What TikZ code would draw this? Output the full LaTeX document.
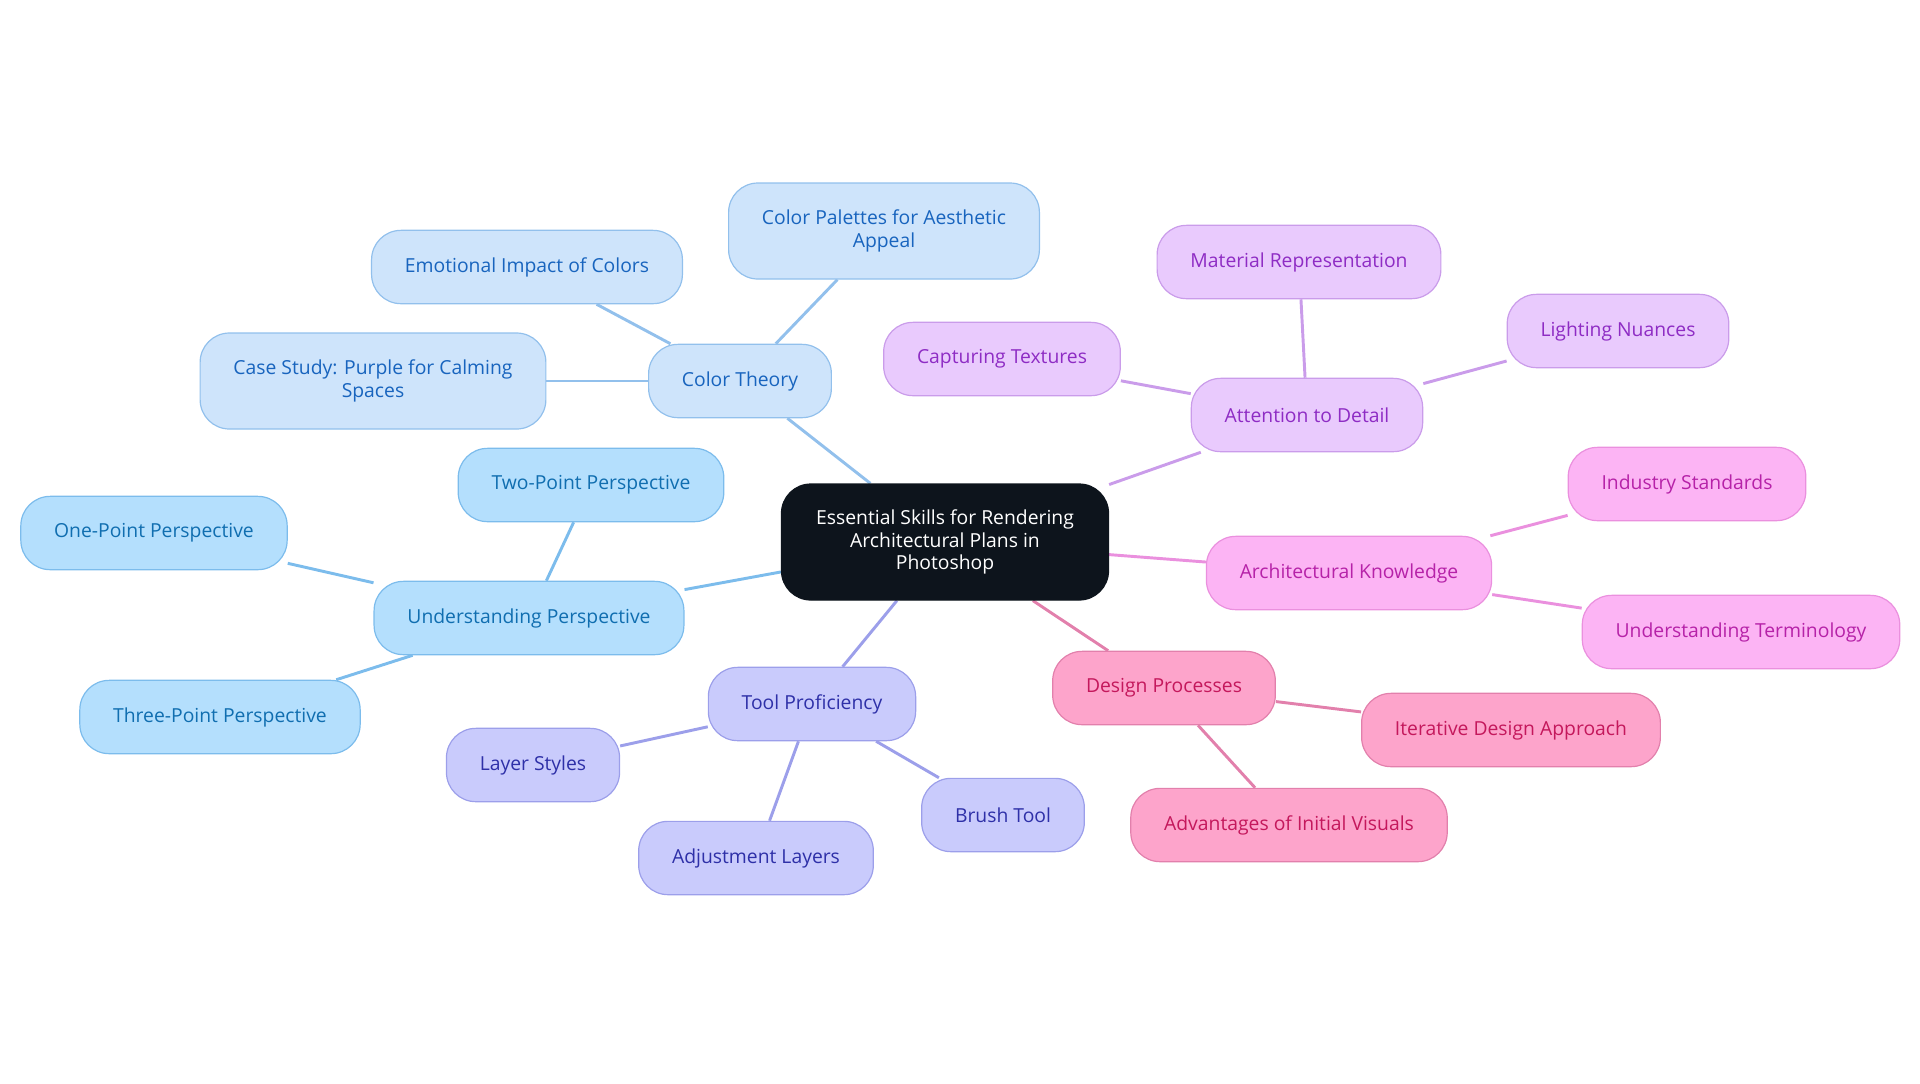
\documentclass[tikz,border=0pt]{standalone}
\usepackage{fontspec}
\setmainfont{Open Sans}
\usepackage{tikz}
\usetikzlibrary{positioning,backgrounds}
\definecolor{rootfill}{RGB}{13,20,28}
\definecolor{ctfill}{RGB}{206,228,251}
\definecolor{ctdraw}{RGB}{146,192,236}
\definecolor{cttext}{RGB}{24,100,190}
\definecolor{psfill}{RGB}{180,223,253}
\definecolor{psdraw}{RGB}{124,188,236}
\definecolor{pstext}{RGB}{16,110,176}
\definecolor{tlfill}{RGB}{201,203,252}
\definecolor{tldraw}{RGB}{156,159,234}
\definecolor{tltext}{RGB}{46,48,168}
\definecolor{dsfill}{RGB}{253,164,203}
\definecolor{dsdraw}{RGB}{226,128,172}
\definecolor{dstext}{RGB}{196,24,92}
\definecolor{dtfill}{RGB}{233,202,253}
\definecolor{dtdraw}{RGB}{202,156,234}
\definecolor{dttext}{RGB}{142,44,196}
\definecolor{akfill}{RGB}{252,180,244}
\definecolor{akdraw}{RGB}{234,144,222}
\definecolor{aktext}{RGB}{182,34,168}

\begin{document}
\begin{tikzpicture}[x=0.75pt, y=-0.75pt,
    topic/.style={rectangle, rounded corners=22pt, draw, line width=0.9pt, minimum height=55pt, inner xsep=25pt, align=center, font=\fontsize{14.5}{17}\selectfont},
    tall/.style={minimum height=72pt},
    root/.style={topic, fill=rootfill, draw=rootfill, text=white, minimum height=87pt, inner xsep=26pt},
    ctbox/.style={topic, fill=ctfill, draw=ctdraw, text=cttext},
    psbox/.style={topic, fill=psfill, draw=psdraw, text=pstext},
    tlbox/.style={topic, fill=tlfill, draw=tldraw, text=tltext},
    dsbox/.style={topic, fill=dsfill, draw=dsdraw, text=dstext},
    dtbox/.style={topic, fill=dtfill, draw=dtdraw, text=dttext},
    akbox/.style={topic, fill=akfill, draw=akdraw, text=aktext},
    link/.style={line width=2.2pt}
]
    \useasboundingbox (0,0) rectangle (1920,1083);

    \node[root] (skills) at (945,542) {Essential Skills for Rendering\\Architectural Plans in\\Photoshop};

    \node[ctbox] (colortheory) at (740,381) {Color Theory};
    \node[ctbox] (emotional) at (527,267) {Emotional Impact of Colors};
    \node[ctbox, tall] (palettes) at (884,231) {Color Palettes for Aesthetic\\Appeal};
    \node[ctbox, tall] (casestudy) at (373,381) {Case Study: Purple for Calming\\Spaces};

    \node[psbox] (perspective) at (529,618) {Understanding Perspective};
    \node[psbox] (twopoint) at (591,485) {Two-Point Perspective};
    \node[psbox] (onepoint) at (154,533) {One-Point Perspective};
    \node[psbox] (threepoint) at (220,717) {Three-Point Perspective};

    \node[tlbox] (tools) at (812,704) {Tool Proficiency};
    \node[tlbox] (layerstyles) at (533,765) {Layer Styles};
    \node[tlbox] (brush) at (1003,815) {Brush Tool};
    \node[tlbox] (adjustment) at (756,858) {Adjustment Layers};

    \node[dsbox] (design) at (1164,688) {Design Processes};
    \node[dsbox] (iterative) at (1511,730) {Iterative Design Approach};
    \node[dsbox] (advantages) at (1289,825) {Advantages of Initial Visuals};

    \node[dtbox] (detail) at (1307,415) {Attention to Detail};
    \node[dtbox] (material) at (1299,262) {Material Representation};
    \node[dtbox] (textures) at (1002,359) {Capturing Textures};
    \node[dtbox] (lighting) at (1618,331) {Lighting Nuances};

    \node[akbox] (archknow) at (1349,573) {Architectural Knowledge};
    \node[akbox] (industry) at (1687,484) {Industry Standards};
    \node[akbox] (terminology) at (1741,632) {Understanding Terminology};

    \begin{scope}[on background layer]
    \draw[link, ctdraw] (skills) -- (colortheory);
    \draw[link, ctdraw] (colortheory) -- (emotional);
    \draw[link, ctdraw] (colortheory) -- (palettes);
    \draw[link, ctdraw] (colortheory) -- (casestudy);

    \draw[link, psdraw] (skills) -- (perspective);
    \draw[link, psdraw] (perspective) -- (twopoint);
    \draw[link, psdraw] (perspective) -- (onepoint);
    \draw[link, psdraw] (perspective) -- (threepoint);

    \draw[link, tldraw] (skills) -- (tools);
    \draw[link, tldraw] (tools) -- (layerstyles);
    \draw[link, tldraw] (tools) -- (brush);
    \draw[link, tldraw] (tools) -- (adjustment);

    \draw[link, dsdraw] (skills) -- (design);
    \draw[link, dsdraw] (design) -- (iterative);
    \draw[link, dsdraw] (design) -- (advantages);

    \draw[link, dtdraw] (skills) -- (detail);
    \draw[link, dtdraw] (detail) -- (material);
    \draw[link, dtdraw] (detail) -- (textures);
    \draw[link, dtdraw] (detail) -- (lighting);

    \draw[link, akdraw] (skills) -- (archknow);
    \draw[link, akdraw] (archknow) -- (industry);
    \draw[link, akdraw] (archknow) -- (terminology);
    \end{scope}
\end{tikzpicture}
\end{document}
